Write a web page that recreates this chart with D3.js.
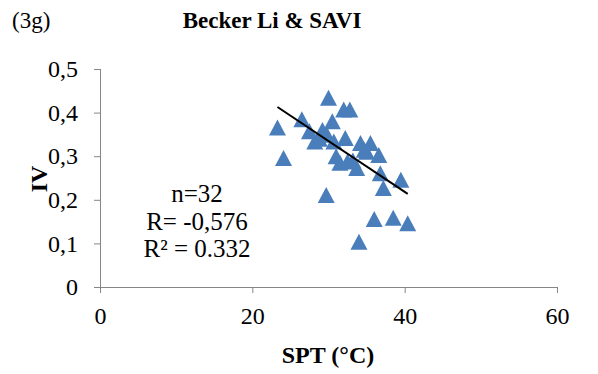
<!DOCTYPE html>
<html>
<head>
<meta charset="utf-8">
<script src="https://cdn.jsdelivr.net/npm/d3@7"></script>
<style>
  body { margin: 0; background: #fff; }
  svg text { font-family: "Liberation Serif", "Times New Roman", serif !important; fill: #000; }
</style>
</head>
<body>
<script>
// SPT (°C) vs IV values
const spt = [30.0, 32.0, 32.8, 23.3, 26.5, 30.5, 27.5, 28.2, 29.8, 30.7, 32.2, 34.2, 35.5, 34.7, 36.6, 24.1,
             32.5, 33.7, 36.8, 39.5, 37.2, 29.7, 36.0, 38.5, 40.4, 34.0, 29.2, 31.0, 33.2, 35.0, 28.8, 31.5];
const iv = [0.434, 0.407, 0.407, 0.366, 0.385, 0.380, 0.357, 0.334, 0.349, 0.334, 0.342, 0.330, 0.330, 0.315, 0.303, 0.296,
            0.288, 0.273, 0.261, 0.246, 0.227, 0.211, 0.156, 0.159, 0.146, 0.104, 0.360, 0.300, 0.290, 0.310, 0.340, 0.285];

// linear trend line coefficients (iv = slope * spt + intercept)
const slope = -0.01164;
const intercept = 0.684;

const xTicks = [0, 20, 40, 60];
const yTicks = [0, 0.1, 0.2, 0.3, 0.4, 0.5];
const annotations = ["n=32", "R= -0,576", "R\u00b2 = 0.332"];

const W = 598, H = 374;
const margin = { left: 100, right: 41, top: 69, bottom: 87 };

const svg = d3.select("body").append("svg")
  .attr("width", W)
  .attr("height", H);

const x = d3.scaleLinear().domain([0, 60]).range([margin.left, W - margin.right]);
const y = d3.scaleLinear().domain([0, 0.5]).range([H - margin.bottom, margin.top]);

const axisColor = "#868686";

// x axis
const gx = svg.append("g")
  .attr("transform", `translate(0,${y(0)})`)
  .call(d3.axisBottom(x).tickValues(xTicks).tickSize(6).tickSizeOuter(0).tickPadding(14));
gx.select(".domain").attr("stroke", axisColor).attr("d", `M${x(0) - 6},0.5H${x(60)}`);
gx.selectAll(".tick line").attr("stroke", axisColor);
gx.selectAll(".tick text").style("font-size", "24px").attr("fill", "#000");

// y axis
const gy = svg.append("g")
  .attr("transform", `translate(${x(0)},0)`)
  .call(d3.axisLeft(y).tickValues(yTicks).tickSize(6).tickSizeOuter(0).tickPadding(16)
    .tickFormat(d => d === 0 ? "0" : d3.format(".1f")(d).replace(".", ",")));
gy.select(".domain").attr("stroke", axisColor).attr("d", `M0.5,${y(0) + 6}V${y(0.5)}`);
gy.selectAll(".tick line").attr("stroke", axisColor);
gy.selectAll(".tick text").style("font-size", "24px").attr("fill", "#000");

// triangle marker centred on its bounding box, like the spreadsheet markers
const triangle = {
  draw(ctx, size) {
    const w = 17, h = 16;
    ctx.moveTo(0, -h / 2);
    ctx.lineTo(w / 2, h / 2);
    ctx.lineTo(-w / 2, h / 2);
    ctx.closePath();
  }
};
const tri = d3.symbol().type(triangle);

svg.append("g")
  .selectAll("path")
  .data(spt.map((s, i) => ({ s, v: iv[i] })))
  .join("path")
  .attr("d", tri)
  .attr("transform", d => `translate(${x(d.s)},${y(d.v)})`)
  .attr("fill", "#4a7ebb");

// trend line
const [xmin, xmax] = d3.extent(spt);
svg.append("line")
  .attr("x1", x(xmin))
  .attr("y1", y(slope * xmin + intercept))
  .attr("x2", x(xmax))
  .attr("y2", y(slope * xmax + intercept))
  .attr("stroke", "#000")
  .attr("stroke-width", 2);

// annotation
svg.append("g")
  .selectAll("text")
  .data(annotations)
  .join("text")
  .attr("x", 197)
  .attr("y", (d, i) => 202 + i * 27.5)
  .attr("text-anchor", "middle")
  .style("font-size", "25px")
  .text(d => d);

// titles
svg.append("text")
  .attr("x", 12)
  .attr("y", 28)
  .style("font-size", "23px")
  .text("(3g)");

svg.append("text")
  .attr("x", 272)
  .attr("y", 28)
  .attr("text-anchor", "middle")
  .style("font-size", "23px")
  .style("font-weight", "bold")
  .text("Becker Li & SAVI");

svg.append("text")
  .attr("x", 328)
  .attr("y", 363)
  .attr("text-anchor", "middle")
  .style("font-size", "24px")
  .style("font-weight", "bold")
  .text("SPT (\u00b0C)");

svg.append("text")
  .attr("transform", `translate(47,${y(0.25) + 1}) rotate(-90)`)
  .attr("text-anchor", "middle")
  .style("font-size", "24px")
  .style("font-weight", "bold")
  .text("IV");
</script>
</body>
</html>
